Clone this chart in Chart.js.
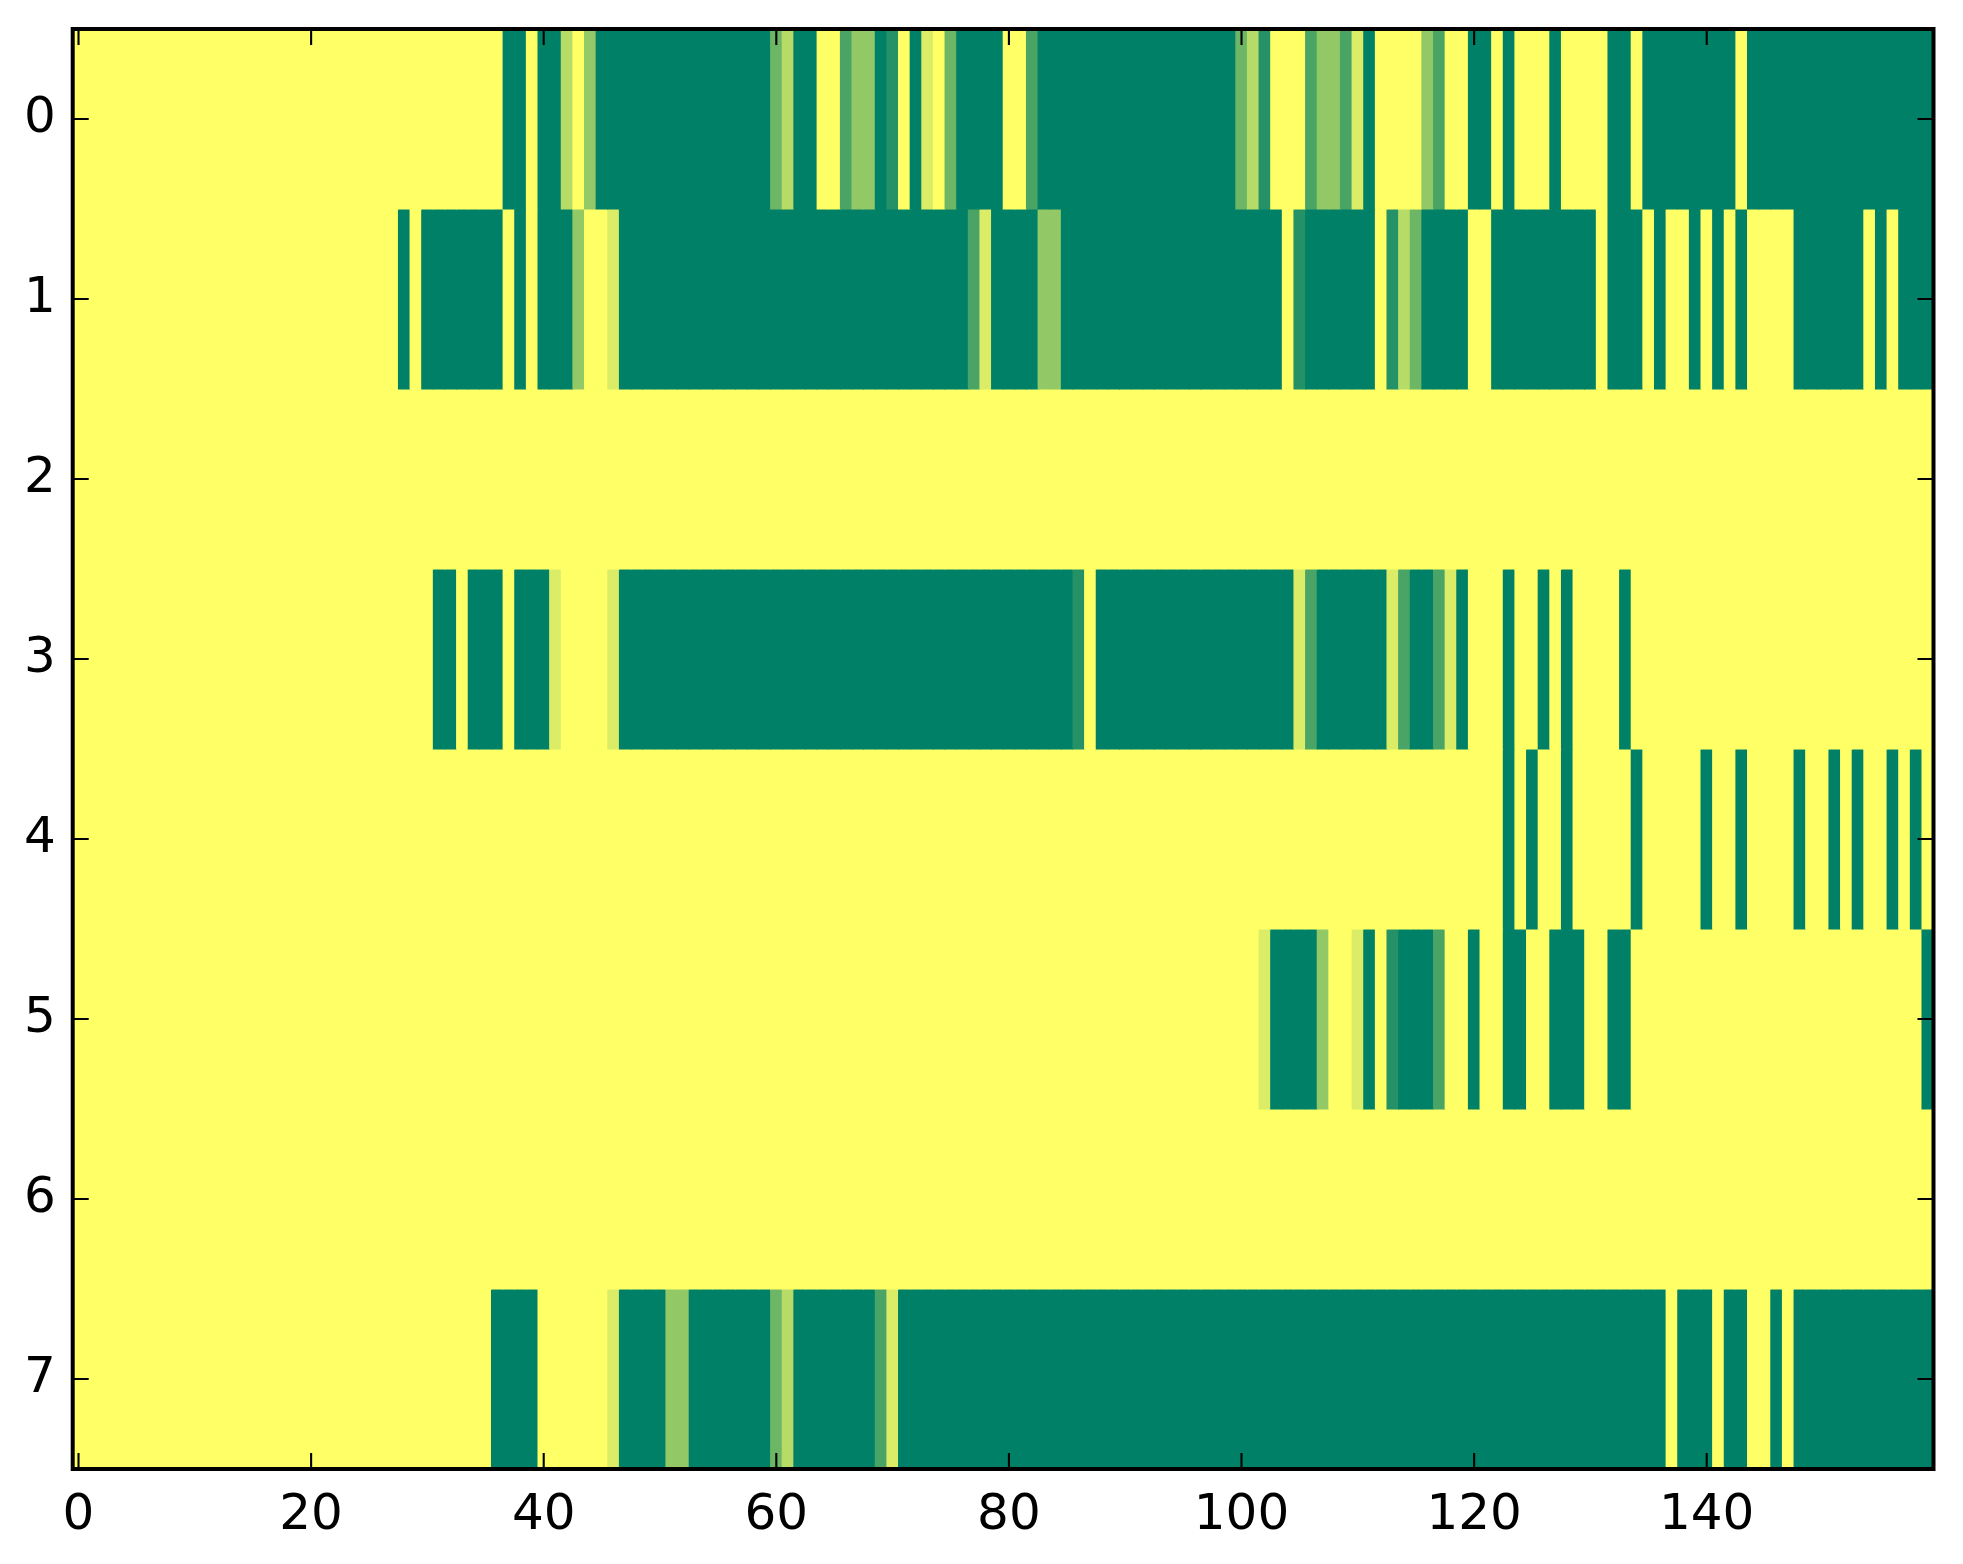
<!DOCTYPE html>
<html>
<head>
<meta charset="utf-8">
<script src="https://cdn.jsdelivr.net/npm/chart.js@4.4.1/dist/chart.umd.min.js"></script>
<style>
html,body{margin:0;padding:0;background:#ffffff;}
#wrap{width:1963px;height:1564px;position:relative;}
canvas{display:block;}
</style>
</head>
<body>
<div id="wrap"><canvas id="c" width="1963" height="1564" style="width:1963px;height:1564px"></canvas></div>
<script>
// Cell levels in sevenths (0 = dark green, 7 = yellow), 160 columns per row
const levelMax = 7;
const row0 = [
7,7,7,7,7,7,7,7,7,7, 7,7,7,7,7,7,7,7,7,7,
7,7,7,7,7,7,7,7,7,7, 7,7,7,7,7,7,7,0,0,7,
0,0,5,7,4,0,0,0,0,0, 0,0,0,0,0,0,0,0,0,0,
3,5,0,0,7,7,2,4,4,0, 1,7,0,6,7,3,0,0,0,0,
7,7,2,0,0,0,0,0,0,0, 0,0,0,0,0,0,0,0,0,0,
3,5,1,7,7,7,2,4,4,2, 6,0,7,7,7,7,4,2,7,7,
0,0,7,0,7,7,7,0,7,7, 7,7,0,0,7,0,0,0,0,0,
0,0,0,7,0,0,0,0,0,0, 0,0,0,0,0,0,0,0,0,0];
const row1 = [
7,7,7,7,7,7,7,7,7,7, 7,7,7,7,7,7,7,7,7,7,
7,7,7,7,7,7,7,7,0,7, 0,0,0,0,0,0,0,7,0,7,
0,0,0,4,7,7,6,0,0,0, 0,0,0,0,0,0,0,0,0,0,
0,0,0,0,0,0,0,0,0,0, 0,0,0,0,0,0,0,2,6,0,
0,0,0,4,4,0,0,0,0,0, 0,0,0,0,0,0,0,0,0,0,
0,0,0,0,7,1,0,0,0,0, 0,0,7,1,5,3,0,0,0,0,
7,7,0,0,0,0,0,0,0,0, 0,7,0,0,0,7,0,7,7,0,
7,0,7,0,7,7,7,7,0,0, 0,0,0,0,7,0,7,0,0,0];
const row2 = [
7,7,7,7,7,7,7,7,7,7, 7,7,7,7,7,7,7,7,7,7,
7,7,7,7,7,7,7,7,7,7, 7,7,7,7,7,7,7,7,7,7,
7,7,7,7,7,7,7,7,7,7, 7,7,7,7,7,7,7,7,7,7,
7,7,7,7,7,7,7,7,7,7, 7,7,7,7,7,7,7,7,7,7,
7,7,7,7,7,7,7,7,7,7, 7,7,7,7,7,7,7,7,7,7,
7,7,7,7,7,7,7,7,7,7, 7,7,7,7,7,7,7,7,7,7,
7,7,7,7,7,7,7,7,7,7, 7,7,7,7,7,7,7,7,7,7,
7,7,7,7,7,7,7,7,7,7, 7,7,7,7,7,7,7,7,7,7];
const row3 = [
7,7,7,7,7,7,7,7,7,7, 7,7,7,7,7,7,7,7,7,7,
7,7,7,7,7,7,7,7,7,7, 7,0,0,7,0,0,0,7,0,0,
0,6,7,7,7,7,6,0,0,0, 0,0,0,0,0,0,0,0,0,0,
0,0,0,0,0,0,0,0,0,0, 0,0,0,0,0,0,0,0,0,0,
0,0,0,0,0,0,1,7,0,0, 0,0,0,0,0,0,0,0,0,0,
0,0,0,0,0,6,2,0,0,0, 0,0,0,6,2,0,0,2,6,0,
7,7,7,0,7,7,0,7,0,7, 7,7,7,0,7,7,7,7,7,7,
7,7,7,7,7,7,7,7,7,7, 7,7,7,7,7,7,7,7,7,7];
const row4 = [
7,7,7,7,7,7,7,7,7,7, 7,7,7,7,7,7,7,7,7,7,
7,7,7,7,7,7,7,7,7,7, 7,7,7,7,7,7,7,7,7,7,
7,7,7,7,7,7,7,7,7,7, 7,7,7,7,7,7,7,7,7,7,
7,7,7,7,7,7,7,7,7,7, 7,7,7,7,7,7,7,7,7,7,
7,7,7,7,7,7,7,7,7,7, 7,7,7,7,7,7,7,7,7,7,
7,7,7,7,7,7,7,7,7,7, 7,7,7,7,7,7,7,7,7,7,
7,7,7,0,7,0,7,7,0,7, 7,7,7,7,0,7,7,7,7,7,
0,7,7,0,7,7,7,7,0,7, 7,0,7,0,7,7,0,7,0,7];
const row5 = [
7,7,7,7,7,7,7,7,7,7, 7,7,7,7,7,7,7,7,7,7,
7,7,7,7,7,7,7,7,7,7, 7,7,7,7,7,7,7,7,7,7,
7,7,7,7,7,7,7,7,7,7, 7,7,7,7,7,7,7,7,7,7,
7,7,7,7,7,7,7,7,7,7, 7,7,7,7,7,7,7,7,7,7,
7,7,7,7,7,7,7,7,7,7, 7,7,7,7,7,7,7,7,7,7,
7,7,6,0,0,0,0,4,7,7, 6,0,7,1,0,0,0,2,7,7,
0,7,7,0,0,7,7,0,0,0, 7,7,0,0,7,7,7,7,7,7,
7,7,7,7,7,7,7,7,7,7, 7,7,7,7,7,7,7,7,7,0];
const row6 = [
7,7,7,7,7,7,7,7,7,7, 7,7,7,7,7,7,7,7,7,7,
7,7,7,7,7,7,7,7,7,7, 7,7,7,7,7,7,7,7,7,7,
7,7,7,7,7,7,7,7,7,7, 7,7,7,7,7,7,7,7,7,7,
7,7,7,7,7,7,7,7,7,7, 7,7,7,7,7,7,7,7,7,7,
7,7,7,7,7,7,7,7,7,7, 7,7,7,7,7,7,7,7,7,7,
7,7,7,7,7,7,7,7,7,7, 7,7,7,7,7,7,7,7,7,7,
7,7,7,7,7,7,7,7,7,7, 7,7,7,7,7,7,7,7,7,7,
7,7,7,7,7,7,7,7,7,7, 7,7,7,7,7,7,7,7,7,7];
const row7 = [
7,7,7,7,7,7,7,7,7,7, 7,7,7,7,7,7,7,7,7,7,
7,7,7,7,7,7,7,7,7,7, 7,7,7,7,7,7,0,0,0,0,
7,7,7,7,7,7,6,0,0,0, 0,4,4,0,0,0,0,0,0,0,
3,5,0,0,0,0,0,0,0,2, 6,0,0,0,0,0,0,0,0,0,
0,0,0,0,0,0,0,0,0,0, 0,0,0,0,0,0,0,0,0,0,
0,0,0,0,0,0,0,0,0,0, 0,0,0,0,0,0,0,0,0,0,
0,0,0,0,0,0,0,0,0,0, 0,0,0,0,0,0,0,7,0,0,
0,7,0,0,7,7,0,7,0,0, 0,0,0,0,0,0,0,0,0,0];

const rows = [row0, row1, row2, row3, row4, row5, row6, row7];
const rowLabels = [0, 1, 2, 3, 4, 5, 6, 7];
const columns = row0.map((_, i) => i);
const xTickValues = [0, 20, 40, 60, 80, 100, 120, 140];
const yTickValues = [0, 1, 2, 3, 4, 5, 6, 7];

// matplotlib "summer" colormap
function summer(v) {
  const r = Math.round(255 * v);
  const g = Math.round(255 * (0.5 + 0.5 * v));
  return 'rgb(' + r + ',' + g + ',102)';
}

const datasets = rows.map((vals, r) => ({
  label: 'row ' + rowLabels[r],
  data: columns.map(c => ({ x: c, y: [rowLabels[r] - 0.5, rowLabels[r] + 0.5] })),
  backgroundColor: vals.map(v => summer(v / levelMax)),
  borderWidth: 0,
  barPercentage: 1,
  categoryPercentage: 1,
  grouped: false,
  inflateAmount: 0.4
}));

const FONT = { family: 'DejaVu Sans', size: 50 };
const TICK_LEN = 16;

const framePlugin = {
  id: 'frame',
  afterDraw(chart) {
    const { ctx, chartArea: a } = chart;
    const x = chart.scales.x, y = chart.scales.y;
    ctx.save();
    ctx.strokeStyle = '#000';
    ctx.lineWidth = 2.1;
    ctx.beginPath();
    xTickValues.forEach(v => {
      const px = x.getPixelForValue(v);
      ctx.moveTo(px, a.bottom); ctx.lineTo(px, a.bottom - TICK_LEN);
      ctx.moveTo(px, a.top); ctx.lineTo(px, a.top + TICK_LEN);
    });
    yTickValues.forEach(v => {
      const py = y.getPixelForValue(v);
      ctx.moveTo(a.left, py); ctx.lineTo(a.left + TICK_LEN, py);
      ctx.moveTo(a.right, py); ctx.lineTo(a.right - TICK_LEN, py);
    });
    ctx.stroke();
    ctx.lineWidth = 4;
    ctx.strokeRect(a.left, a.top, a.right - a.left, a.bottom - a.top);
    ctx.restore();
  }
};

new Chart(document.getElementById('c'), {
  type: 'bar',
  data: { datasets },
  options: {
    responsive: false,
    devicePixelRatio: 1,
    animation: false,
    layout: { padding: { top: 29, right: 29.5, left: 0, bottom: 0 } },
    plugins: { legend: { display: false }, tooltip: { enabled: false } },
    scales: {
      x: {
        type: 'linear',
        min: -0.5,
        max: 159.5,
        offset: false,
        grid: { display: false, drawTicks: false },
        border: { display: false },
        ticks: { font: FONT, color: '#000', padding: 17, maxRotation: 0, autoSkip: false },
        afterBuildTicks(scale) { scale.ticks = xTickValues.map(v => ({ value: v })); },
        afterFit(scale) { scale.height = 95; scale.paddingLeft = 0; scale.paddingRight = 0; }
      },
      y: {
        type: 'linear',
        reverse: true,
        min: -0.5,
        max: 7.5,
        grid: { display: false, drawTicks: false },
        border: { display: false },
        ticks: { font: FONT, color: '#000', padding: 17, autoSkip: false },
        afterBuildTicks(scale) { scale.ticks = yTickValues.map(v => ({ value: v })); },
        afterFit(scale) { scale.width = 72.7; scale.paddingTop = 0; scale.paddingBottom = 0; }
      }
    }
  },
  plugins: [framePlugin]
});
</script>
</body>
</html>
